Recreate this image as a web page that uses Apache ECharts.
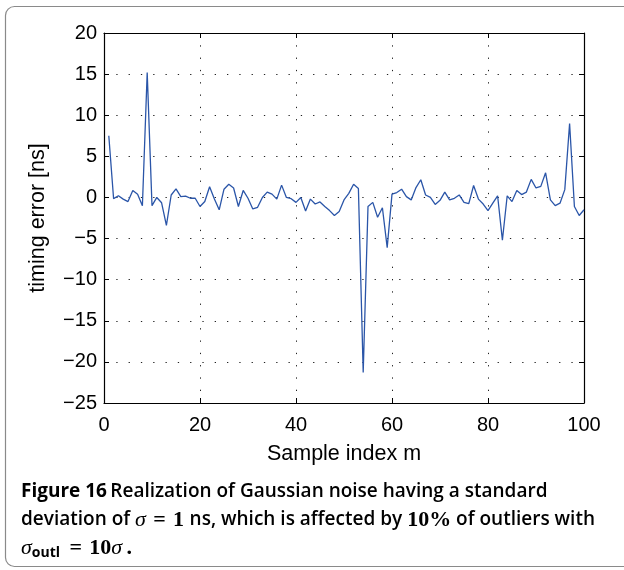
<!DOCTYPE html>
<html>
<head>
<meta charset="utf-8">
<script src="https://cdn.jsdelivr.net/npm/echarts@6/dist/echarts.min.js"></script>
<style>html,body{margin:0;padding:0;background:#fff;}#c{width:624px;height:570px;}</style>
</head>
<body>
<div id="c"></div>
<script>
var xTicks = [0, 20, 40, 60, 80, 100];
var yTicks = [-25, -20, -15, -10, -5, 0, 5, 10, 15, 20];
var sampleIndex = [1,2,3,4,5,6,7,8,9,10,11,12,13,14,15,16,17,18,19,20,21,22,23,24,25,26,27,28,29,30,31,32,33,34,35,36,37,38,39,40,41,42,43,44,45,46,47,48,49,50,51,52,53,54,55,56,57,58,59,60,61,62,63,64,65,66,67,68,69,70,71,72,73,74,75,76,77,78,79,80,81,82,83,84,85,86,87,88,89,90,91,92,93,94,95,96,97,98,99,100];
var timingError = [
  7.5, -0.15, 0.2, -0.2, -0.5, 0.85, 0.4, -1.0, 15.2, -1.0,
  0, -0.65, -3.4, 0.3, 1.05, 0.1, 0.15, -0.1, -0.1, -1.1,
  -0.5, 1.3, -0.2, -1.5, 1.0, 1.6, 1.15, -1.1, 0.85, -0.1,
  -1.4, -1.2, 0, 0.65, 0.4, -0.2, 1.5, 0, -0.15, -0.6,
  0, -1.65, -0.2, -0.8, -0.55, -1.1, -1.6, -2.2, -1.7, -0.3,
  0.5, 1.6, 1.1, -21.3, -1.1, -0.6, -2.4, -1.25, -6.1, 0.4,
  0.6, 1.0, 0.1, -0.3, 1.2, 2.15, 0.3, 0, -0.85, -0.35,
  0.65, -0.3, -0.1, 0.3, -0.6, -0.75, 1.45, -0.2, -0.8, -1.6,
  -0.7, 0.2, -5.2, 0.2, -0.5, 0.85, 0.35, 0.65, 2.2, 1.15,
  1.35, 3.0, -0.3, -1.0, -0.7, 0.95, 9.0, -1.1, -2.2, -1.5
];
var xName = 'Sample index m';
var yName = 'timing error [ns]';

var chart = echarts.init(document.getElementById('c'), null, {renderer: 'canvas'});
var font = 'Liberation Sans';
var grid = {left: 104, right: 40, top: 33, bottom: 167};
var gridDash = {type: [1.3, 11], color: '#222', width: 1};
function baseAxis(extra) {
  return Object.assign({
    axisLine: {show: true, onZero: false, lineStyle: {color: '#000', width: 1.2}},
    axisTick: {show: true, inside: true, length: 5, lineStyle: {color: '#000'}},
    splitLine: {show: false},
    axisLabel: {show: false}
  }, extra);
}
var option = {
  animation: false,
  backgroundColor: '#fff',
  grid: grid,
  xAxis: [
    baseAxis({type: 'value', min: xTicks[0], max: xTicks[xTicks.length - 1], interval: 20, position: 'bottom',
      name: xName, nameLocation: 'middle', nameGap: 40,
      nameTextStyle: {fontFamily: font, fontSize: 21.5, color: '#000'},
      axisLabel: {show: true, fontFamily: font, fontSize: 20, color: '#000', margin: 12},
      splitLine: {show: true, lineStyle: gridDash}}),
    baseAxis({type: 'value', min: xTicks[0], max: xTicks[xTicks.length - 1], interval: 20, position: 'top'})
  ],
  yAxis: [
    baseAxis({type: 'value', min: yTicks[0], max: yTicks[yTicks.length - 1], interval: 5, position: 'left',
      name: yName, nameLocation: 'middle', nameGap: 55, nameRotate: 90,
      nameTextStyle: {fontFamily: font, fontSize: 21.5, color: '#000'},
      axisLabel: {show: true, fontFamily: font, fontSize: 20, color: '#000', margin: 7,
        formatter: function (v) { return v < 0 ? '\u2212' + Math.abs(v) : String(v); }},
      splitLine: {show: true, lineStyle: gridDash}}),
    baseAxis({type: 'value', min: yTicks[0], max: yTicks[yTicks.length - 1], interval: 5, position: 'right'})
  ],
  series: [{
    type: 'line',
    data: sampleIndex.map(function (x, i) { return [x, timingError[i]]; }),
    showSymbol: false,
    lineStyle: {color: '#2a55a8', width: 1.3},
    z: 5
  }],
  graphic: [
    {type: 'rect', shape: {x: 5.5, y: 6.5, width: 650, height: 560, r: 9},
     style: {fill: 'none', stroke: '#8a8a8a', lineWidth: 1.2}, z: -1},
    {type: 'text', left: 21, top: 482,
     style: {
       text: '{b|Figure 16} {r|Realization of Gaussian noise having a standard}\n' +
             '{r|deviation of }{mi|\u03c3}{m|\u2004=\u20041 }{r|ns, which is affected by }{m|10%}{r| of outliers with}\n' +
             '{mi|\u03c3}{sub|outl}{m|\u2004=\u200410}{mi|\u03c3}{m|\u2009.}',
       rich: {
         b: {fontFamily: 'Open Sans', fontWeight: 'bold', fontSize: 19, lineHeight: 28.5, fill: '#000'},
         r: {fontFamily: 'Open Sans', fontWeight: 600, fontSize: 19, lineHeight: 28.5, fill: '#000'},
         m: {fontFamily: 'Liberation Serif', fontWeight: 'bold', fontSize: 22, lineHeight: 28.5, fill: '#000'},
         mi: {fontFamily: 'Liberation Serif', fontStyle: 'italic', fontSize: 22, lineHeight: 28.5, fill: '#000'},
         sub: {fontFamily: 'Open Sans', fontWeight: 'bold', fontSize: 14, lineHeight: 28.5, padding: [10, 2, 0, 0], fill: '#000'}
       }
     }}
  ]
};
chart.setOption(option);
</script>
</body>
</html>
